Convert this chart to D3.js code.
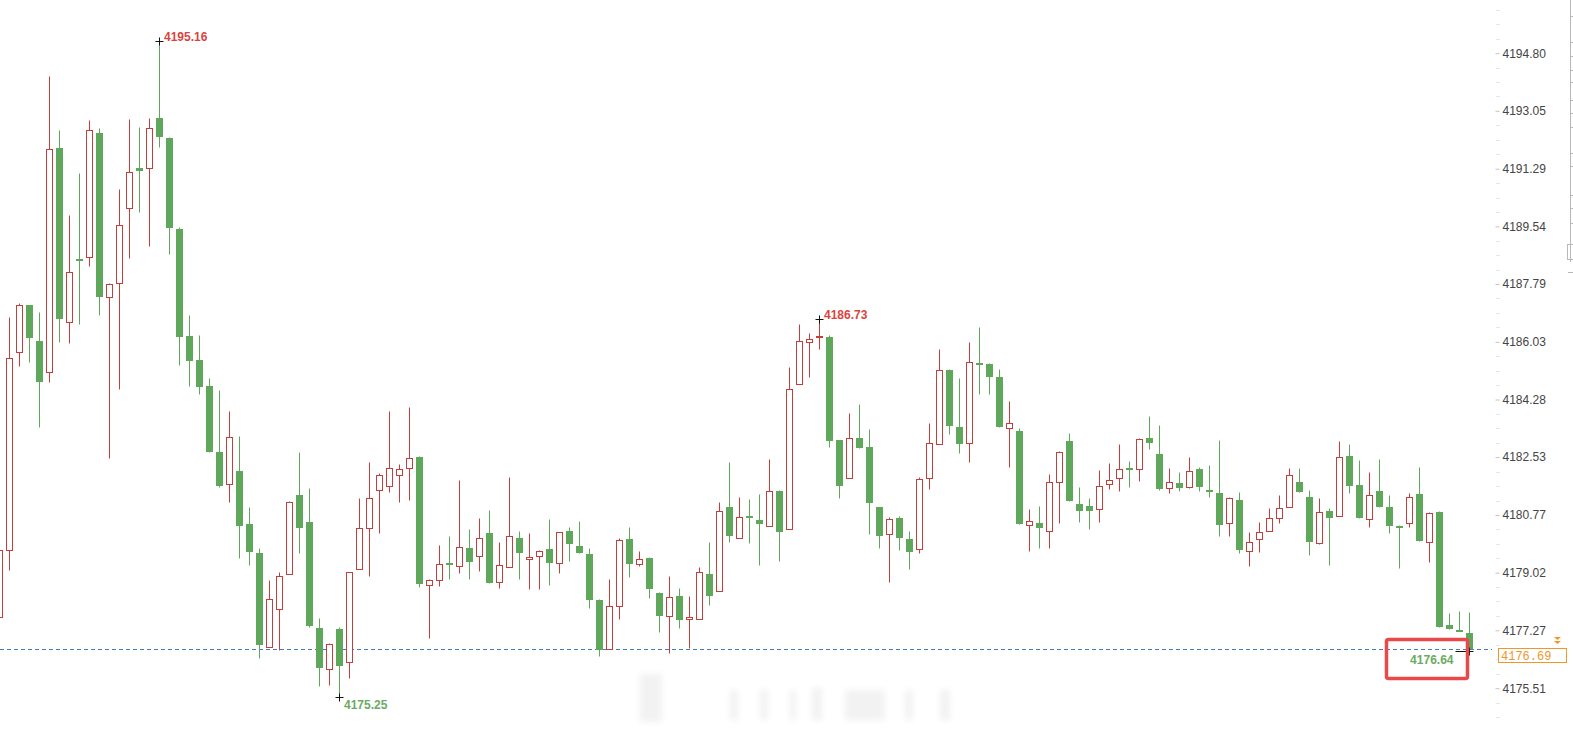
<!DOCTYPE html>
<html>
<head>
<meta charset="utf-8">
<script src="https://cdn.jsdelivr.net/npm/d3@7"></script>
<style>
  html, body { margin: 0; padding: 0; background: #fff; overflow: hidden; }
  svg { display: block; font-family: "Liberation Sans", Arial, sans-serif; }
</style>
</head>
<body>
<div id="chart"></div>
<script>
// K线数据 (从左到右), 第一根只露出一半
const openP = [
  4177.67,
  4179.71, 4185.73, 4187.16, 4186.06, 4185.12, 4191.92, 4186.64, 4188.56, 4188.61, 4192.38,
  4187.39, 4187.82, 4190.10, 4191.31, 4191.31, 4192.83, 4192.23, 4189.46, 4186.22, 4185.49,
  4184.70, 4182.69, 4181.72, 4182.11, 4180.50, 4179.62, 4176.76, 4177.92, 4178.98, 4181.38,
  4180.56, 4177.34, 4176.09, 4177.31, 4176.30, 4179.13, 4180.38, 4181.53, 4181.66, 4181.99,
  4182.20, 4182.54, 4178.65, 4178.80, 4179.30, 4179.23, 4179.77, 4179.53, 4180.22, 4178.74,
  4179.19, 4180.07, 4179.44, 4179.53, 4179.74, 4179.32, 4180.29, 4179.83, 4179.59, 4178.19,
  4176.70, 4178.01, 4180.04, 4179.29, 4179.47, 4178.40, 4177.70, 4178.31, 4177.61, 4177.61,
  4178.98, 4178.46, 4181.02, 4180.07, 4180.73, 4180.62, 4180.44, 4181.50, 4180.35, 4184.76,
  4186.03, 4186.17, 4186.19, 4183.05, 4181.90, 4183.12, 4182.84, 4181.02, 4180.20, 4180.68,
  4180.04, 4179.74, 4181.90, 4182.93, 4185.18, 4183.45, 4182.96, 4185.38, 4185.36, 4184.97,
  4183.42, 4183.33, 4180.47, 4180.53, 4180.29, 4181.78, 4183.02, 4181.11, 4181.05, 4180.96,
  4181.72, 4181.90, 4182.19, 4182.17, 4183.12, 4182.63, 4181.59, 4181.75, 4181.63, 4182.17,
  4181.53, 4181.44, 4180.53, 4181.23, 4179.68, 4180.04, 4180.29, 4180.68, 4181.02, 4181.78,
  4181.32, 4179.92, 4180.90, 4180.74, 4182.57, 4181.69, 4180.65, 4181.50, 4181.02, 4180.45,
  4180.53, 4181.41, 4179.95, 4180.87, 4177.43, 4177.27, 4177.19
];
const highP = [
  4179.86,
  4186.79, 4187.22, 4187.16, 4186.95, 4194.11, 4192.47, 4189.88, 4191.16, 4192.77, 4192.53,
  4187.82, 4190.68, 4192.80, 4192.56, 4192.83, 4195.16, 4192.26, 4189.52, 4186.85, 4186.25,
  4184.94, 4184.57, 4183.94, 4183.18, 4181.02, 4179.77, 4178.80, 4179.04, 4181.20, 4182.69,
  4181.59, 4177.64, 4176.88, 4177.37, 4179.04, 4181.29, 4182.39, 4182.05, 4183.94, 4182.32,
  4184.06, 4182.57, 4178.83, 4179.86, 4180.14, 4181.84, 4180.35, 4180.68, 4180.93, 4179.95,
  4181.93, 4180.29, 4180.22, 4179.71, 4180.65, 4180.26, 4180.41, 4180.59, 4179.77, 4178.22,
  4178.83, 4180.07, 4180.41, 4179.68, 4179.50, 4178.43, 4178.92, 4178.56, 4178.31, 4179.19,
  4179.95, 4181.17, 4182.39, 4181.32, 4181.26, 4181.41, 4182.48, 4181.53, 4185.27, 4186.58,
  4186.30, 4186.73, 4186.25, 4183.05, 4183.88, 4184.15, 4183.39, 4181.02, 4180.71, 4180.74,
  4180.29, 4181.93, 4183.57, 4185.82, 4185.21, 4184.94, 4186.03, 4186.49, 4185.39, 4185.21,
  4184.24, 4183.42, 4180.96, 4181.05, 4182.02, 4182.72, 4183.27, 4181.62, 4181.29, 4182.14,
  4182.35, 4182.93, 4182.42, 4183.12, 4183.79, 4183.51, 4182.20, 4182.08, 4182.54, 4182.23,
  4182.29, 4183.05, 4181.32, 4181.47, 4180.26, 4180.56, 4180.99, 4181.38, 4182.20, 4182.20,
  4181.53, 4181.29, 4180.99, 4183.02, 4182.93, 4182.45, 4182.08, 4182.48, 4181.38, 4180.47,
  4181.44, 4182.23, 4180.87, 4180.90, 4177.79, 4177.86, 4177.83
];
const lowP = [
  4177.58,
  4179.10, 4185.30, 4185.43, 4183.45, 4184.82, 4186.03, 4186.00, 4186.58, 4188.34, 4186.85,
  4182.51, 4184.61, 4188.58, 4189.98, 4188.94, 4191.95, 4188.70, 4185.33, 4184.70, 4184.45,
  4182.69, 4181.63, 4181.17, 4179.47, 4179.26, 4176.43, 4176.76, 4176.67, 4178.98, 4179.62,
  4177.37, 4175.58, 4175.61, 4175.25, 4175.82, 4179.13, 4178.92, 4180.22, 4181.47, 4181.17,
  4181.23, 4178.58, 4177.03, 4178.62, 4178.83, 4179.01, 4178.83, 4179.07, 4178.71, 4178.56,
  4179.19, 4178.83, 4178.53, 4178.53, 4178.65, 4179.01, 4179.38, 4179.62, 4177.95, 4176.49,
  4176.70, 4177.61, 4178.89, 4179.23, 4178.25, 4177.22, 4176.58, 4177.34, 4176.73, 4177.61,
  4178.04, 4178.46, 4179.95, 4180.07, 4179.92, 4179.26, 4180.44, 4179.38, 4180.35, 4184.76,
  4184.97, 4185.82, 4182.84, 4181.29, 4181.90, 4182.81, 4180.20, 4179.77, 4178.74, 4179.71,
  4179.13, 4179.62, 4181.56, 4182.93, 4183.24, 4182.66, 4182.39, 4184.45, 4184.45, 4183.45,
  4182.23, 4180.50, 4179.68, 4179.77, 4179.77, 4180.53, 4181.20, 4180.56, 4180.35, 4180.56,
  4181.56, 4181.50, 4181.63, 4181.81, 4182.78, 4181.53, 4181.44, 4181.50, 4181.59, 4181.50,
  4181.32, 4180.14, 4180.14, 4179.62, 4179.23, 4179.65, 4180.29, 4180.53, 4181.02, 4181.47,
  4179.56, 4179.89, 4179.26, 4180.74, 4181.44, 4180.68, 4180.41, 4181.02, 4180.22, 4179.16,
  4180.41, 4179.98, 4179.35, 4177.37, 4177.31, 4177.24, 4176.64
];
const closeP = [
  4179.71,
  4185.55, 4187.16, 4186.15, 4184.82, 4191.89, 4186.73, 4188.15, 4188.53, 4192.47, 4187.39,
  4187.79, 4189.58, 4191.19, 4191.22, 4192.53, 4192.26, 4189.49, 4186.19, 4185.46, 4184.67,
  4182.69, 4181.66, 4183.15, 4180.44, 4179.65, 4176.82, 4178.22, 4178.92, 4181.17, 4180.38,
  4177.40, 4176.12, 4176.85, 4176.18, 4179.04, 4180.38, 4181.29, 4181.99, 4182.20, 4182.17,
  4182.51, 4178.68, 4178.80, 4179.29, 4179.27, 4179.80, 4179.35, 4180.07, 4178.71, 4179.26,
  4180.14, 4179.62, 4179.50, 4179.68, 4179.32, 4180.26, 4179.89, 4179.62, 4178.19, 4176.67,
  4178.01, 4180.01, 4179.29, 4179.44, 4178.53, 4177.70, 4178.28, 4177.58, 4177.67, 4179.04,
  4178.31, 4180.90, 4180.14, 4180.71, 4180.70, 4180.50, 4181.50, 4180.26, 4184.61, 4186.06,
  4186.12, 4186.20, 4183.02, 4181.66, 4183.12, 4182.81, 4181.14, 4180.14, 4180.65, 4180.07,
  4179.65, 4181.87, 4182.96, 4185.18, 4183.48, 4182.93, 4185.43, 4185.35, 4184.97, 4183.45,
  4183.57, 4180.50, 4180.59, 4180.38, 4181.78, 4182.69, 4181.20, 4180.90, 4180.90, 4181.66,
  4181.84, 4182.17, 4182.16, 4183.08, 4182.96, 4181.56, 4181.78, 4181.59, 4182.11, 4181.63,
  4181.47, 4180.47, 4181.29, 4179.71, 4179.95, 4180.26, 4180.68, 4180.99, 4181.99, 4181.47,
  4179.95, 4180.87, 4180.68, 4182.54, 4181.66, 4180.68, 4181.38, 4181.02, 4180.44, 4180.42,
  4181.32, 4179.98, 4180.84, 4177.37, 4177.31, 4177.24, 4176.69
];

// 右侧价格刻度
const tickVals = [4196.55, 4194.80, 4193.05, 4191.29, 4189.54, 4187.79, 4186.03,
                  4184.28, 4182.53, 4180.77, 4179.02, 4177.27, 4175.51];

// 最高/最低标注
const markIdx = [16, 82, 34, 147];
const markVal = [4195.16, 4186.73, 4175.25, 4176.64];
const lastPrice = 4176.69;

const W = 1573, H = 741;
const n = closeP.length;
const candles = d3.range(n).map(i => ({
  i, o: openP[i], h: highP[i], l: lowP[i], c: closeP[i]
}));

const x = d3.scaleLinear().domain([0, n - 1]).range([-0.7, 1469.3]);
const y = d3.scaleLinear().domain([4175.51, 4194.80]).range([688.2, 53.2]);

const red = "#c43f3b", green = "#5fa85b";

const svg = d3.select("#chart").append("svg")
  .attr("width", W).attr("height", H);

svg.append("rect").attr("width", W).attr("height", H).attr("fill", "#fff");

// 水印 (模糊)
const defs = svg.append("defs");
defs.append("filter").attr("id", "blur")
  .append("feGaussianBlur").attr("stdDeviation", 3);
const wm = svg.append("g").attr("filter", "url(#blur)").attr("fill", "#f2f2f2");
[[640, 674, 22, 48], [730, 690, 8, 30], [760, 690, 8, 30], [790, 690, 6, 30],
 [812, 688, 10, 32], [845, 690, 40, 30], [905, 690, 8, 30], [940, 690, 10, 30]]
  .forEach(r => wm.append("rect").attr("x", r[0]).attr("y", r[1])
    .attr("width", r[2]).attr("height", r[3]));

// 当前价虚线
svg.append("line")
  .attr("x1", 0).attr("x2", 1492)
  .attr("y1", Math.round(y(lastPrice)) + 0.5).attr("y2", Math.round(y(lastPrice)) + 0.5)
  .attr("stroke", "#3f7cc4").attr("stroke-width", 1)
  .attr("stroke-dasharray", "4,3");

// K线
const cx = d => Math.round(x(d.i)) + 0.5;
const py = v => Math.round(y(v)) + 0.5;

const g = svg.append("g");
g.selectAll(".wick").data(candles).enter().append("line")
  .attr("class", "wick")
  .attr("x1", cx).attr("x2", cx)
  .attr("y1", d => py(d.h)).attr("y2", d => py(d.l))
  .attr("stroke", d => d.c >= d.o ? red : green);

g.selectAll(".up").data(candles.filter(d => d.c >= d.o)).enter().append("rect")
  .attr("class", "up")
  .attr("x", d => cx(d) - 3)
  .attr("y", d => py(d.c))
  .attr("width", 6)
  .attr("height", d => Math.max(py(d.o) - py(d.c), 1))
  .attr("fill", "#fff").attr("stroke", red);

g.selectAll(".down").data(candles.filter(d => d.c < d.o)).enter().append("rect")
  .attr("class", "down")
  .attr("x", d => cx(d) - 3.5)
  .attr("y", d => Math.round(y(d.o)))
  .attr("width", 7)
  .attr("height", d => Math.max(Math.round(y(d.c)) - Math.round(y(d.o)), 2))
  .attr("fill", green);

// 高低点标注
markIdx.forEach((idx, k) => {
  const px = Math.round(x(idx)) + 0.5, pyy = py(markVal[k]);
  const up = k < 2;
  const col = up ? "#d9453e" : "#6aab63";
  svg.append("path")
    .attr("d", `M${px - 4},${pyy}H${px + 4}M${px},${pyy - 4}V${pyy + 4}`)
    .attr("stroke", "#111").attr("stroke-width", 1);
  if (k === 3) {
    svg.append("line").attr("x1", px - 14).attr("x2", px).attr("y1", pyy).attr("y2", pyy)
      .attr("stroke", "#111");
    svg.append("text").attr("x", px - 16).attr("y", pyy + 12)
      .attr("text-anchor", "end")
      .attr("font-size", 12).attr("font-weight", "bold").attr("fill", col)
      .text(markVal[k].toFixed(2));
  } else {
    svg.append("text").attr("x", px + 4.5).attr("y", up ? pyy - 1 : pyy + 11)
      .attr("font-size", 12).attr("font-weight", "bold").attr("fill", col)
      .text(markVal[k].toFixed(2));
  }
});

// 红色框
svg.append("rect")
  .attr("x", 1386.5).attr("y", 639.5).attr("width", 81).attr("height", 39)
  .attr("rx", 2).attr("fill", "none")
  .attr("stroke", "#e8494a").attr("stroke-width", 3.5);

// 价格轴
const minor = [];
for (let k = 0; k < tickVals.length - 1; k++) {
  const a = tickVals[k], b = tickVals[k + 1];
  for (let j = 1; j < 4; j++) minor.push(a + (b - a) * j / 4);
}
minor.push(tickVals[tickVals.length - 1] - (tickVals[0] - tickVals[1]) / 4);
minor.push(tickVals[tickVals.length - 1] - (tickVals[0] - tickVals[1]) / 2);
svg.append("g").selectAll("line").data(minor).enter().append("line")
  .attr("x1", 1496).attr("x2", 1500)
  .attr("y1", d => py(d)).attr("y2", d => py(d))
  .attr("stroke", "#e6e6e6");

const axis = svg.append("g")
  .attr("transform", "translate(1495.5,0)")
  .call(d3.axisRight(y).tickValues(tickVals).tickSize(4).tickPadding(3)
    .tickFormat(d3.format(".2f")));
axis.select(".domain").remove();
axis.selectAll(".tick line").attr("stroke", "#c4c4c4");
axis.selectAll(".tick text")
  .attr("fill", "#444").attr("font-size", 12)
  .attr("font-family", "Liberation Sans, Arial, sans-serif");

// 最新价标签
const ly = Math.round(y(lastPrice));
svg.append("rect")
  .attr("x", 1498.5).attr("y", ly - 0.5).attr("width", 68).attr("height", 14)
  .attr("fill", "#fff").attr("stroke", "#f0962a");
svg.append("text")
  .attr("x", 1501).attr("y", ly + 10.5)
  .attr("font-family", "Liberation Mono, monospace").attr("font-size", 12)
  .attr("fill", "#f0962a")
  .text(lastPrice.toFixed(2));
svg.append("path")
  .attr("d", `M1554,${ly - 12}h7l-3.5,3z M1554,${ly - 8}h7l-3.5,3z`)
  .attr("fill", "#f0962a");

// 右边缘的工具栏残影
const edge = svg.append("g").attr("stroke", "#b8b8b8");
edge.append("line").attr("x1", 1570.5).attr("x2", 1570.5).attr("y1", 0).attr("y2", 262);
[16, 42, 56, 70, 82, 100, 113, 127, 153, 166, 195, 208, 223].forEach(t =>
  edge.append("line").attr("x1", 1570).attr("x2", 1573).attr("y1", t + 0.5).attr("y2", t + 0.5));
edge.append("rect").attr("x", 1567.5).attr("y", 244.5).attr("width", 8).attr("height", 15)
  .attr("fill", "none");
edge.append("line").attr("x1", 1568).attr("x2", 1573).attr("y1", 272.5).attr("y2", 272.5);
</script>
</body>
</html>
